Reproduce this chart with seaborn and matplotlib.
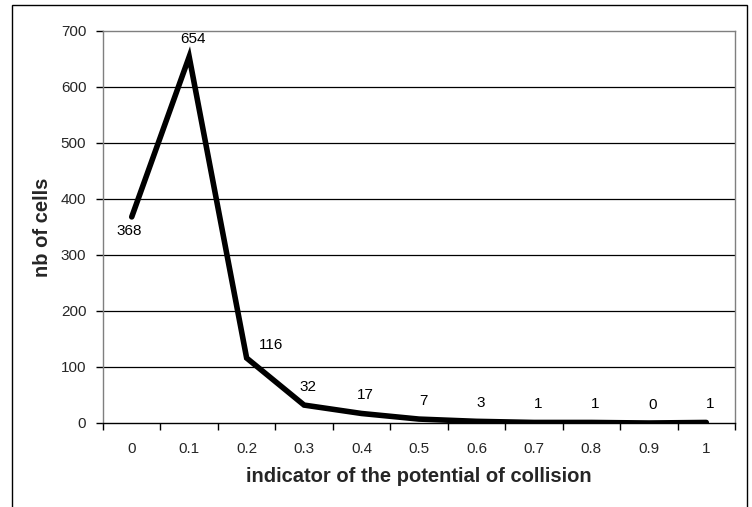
import numpy as np
import pandas as pd
import matplotlib
matplotlib.use("Agg")
import matplotlib.pyplot as plt
from matplotlib.patches import Rectangle
import seaborn as sns

# data
categories = ["0", "0.1", "0.2", "0.3", "0.4", "0.5", "0.6", "0.7", "0.8", "0.9", "1"]
nb_cells = [368, 654, 116, 32, 17, 7, 3, 1, 1, 0, 1]
y_ticks = [0, 100, 200, 300, 400, 500, 600, 700]

sns.set_style("white")
plt.rcParams['font.family'] = ['Liberation Sans', 'DejaVu Sans']

df = pd.DataFrame({"pos": np.arange(len(categories)), "cells": nb_cells})

fig = plt.figure(figsize=(7.52, 5.07), dpi=100)
ax = fig.add_axes([103 / 752, 1 - 423 / 507, 632 / 752, 392 / 507])

# outer chart frame (bottom edge falls outside the image)
fig.patches.append(Rectangle((12 / 752, -0.05), 735 / 752, 1.05 - 5 / 507,
                             transform=fig.transFigure, fill=False,
                             edgecolor="black", linewidth=1.0))

ax.set_axisbelow(True)
for y in y_ticks[1:-1]:
    ax.axhline(y, color="black", linewidth=0.9, zorder=0)

sns.lineplot(data=df, x="pos", y="cells", ax=ax, color="black",
             linewidth=4.0, solid_capstyle="round", solid_joinstyle="miter")

# data labels (offsets in pixels)
for i, v in enumerate(nb_cells):
    if i == 0:
        dx, dy = -3, -14
    elif i == 2:
        dx, dy = 24, 13
    else:
        dx, dy = 4, 18
    ax.annotate(str(v), (i, v), xytext=(dx / 1.389, dy / 1.389),
                textcoords="offset points", ha="center", va="center",
                fontsize=11, color="black")

ax.set_xlim(-0.5, len(categories) - 0.5)
ax.set_ylim(0, 700)
ax.set_yticks(y_ticks)
ax.set_xticks(np.arange(len(categories)))
ax.set_xticklabels(categories)
ax.set_xticks(np.arange(len(categories) + 1) - 0.5, minor=True)
ax.tick_params(axis="x", which="major", length=0, pad=14, labelsize=11)
ax.tick_params(axis="x", which="minor", length=5, width=1, color="black",
               direction="out", bottom=True)
ax.tick_params(axis="y", length=5, width=1, color="black", direction="out",
               left=True, pad=7, labelsize=11)

for side in ["top", "right", "left"]:
    ax.spines[side].set_color("#7f7f7f")
    ax.spines[side].set_linewidth(1.0)
ax.spines["bottom"].set_color("black")
ax.spines["bottom"].set_linewidth(1.0)

ax.set_xlabel("indicator of the potential of collision", fontsize=14.5,
              fontweight="bold")
ax.set_ylabel("nb of cells", fontsize=14.5, fontweight="bold")
ax.xaxis.label.set_va("center")
ax.yaxis.label.set_va("center")
ax.xaxis.set_label_coords(0.5, (423 - 476) / 392)
ax.yaxis.set_label_coords((43 - 103) / 632, 0.5)

fig.savefig("out.png", dpi=100)
